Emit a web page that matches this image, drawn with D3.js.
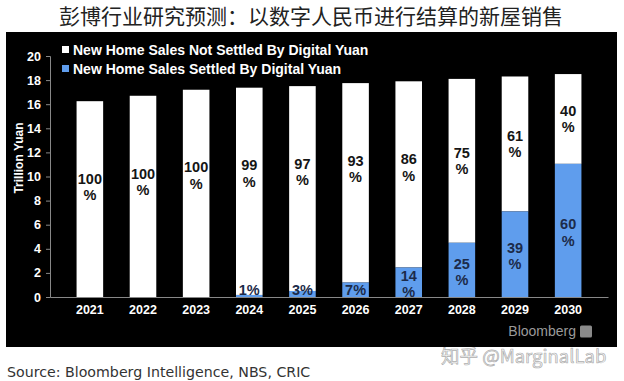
<!DOCTYPE html>
<html><head><meta charset="utf-8">
<script src="https://cdn.jsdelivr.net/npm/d3@7"></script>
<style>html,body{margin:0;padding:0;background:#fff;}svg{display:block;}</style>
</head><body>
<script>
const years = ["2021","2022","2023","2024","2025","2026","2027","2028","2029","2030"];
const settled = [0,0,0,0.17,0.5,1.2,2.45,4.5,7.1,11.05];
const notSettled = [16.25,16.7,17.2,17.2,17.0,16.55,15.45,13.6,11.2,7.45];
const notSettledLabels = [["100","%"],["100","%"],["100","%"],["99","%"],["97","%"],["93","%"],["86","%"],["75","%"],["61","%"],["40","%"]];
const settledLabels = [[],[],[],["1%"],["3%"],["7%"],["14","%"],["25","%"],["39","%"],["60","%"]];
const yTicks = [0,2,4,6,8,10,12,14,16,18,20];
const seriesNames = ["New Home Sales Not Settled By Digital Yuan","New Home Sales Settled By Digital Yuan"];
const title = "彭博行业研究预测：以数字人民币进行结算的新屋销售";
const source = "Source: Bloomberg Intelligence, NBS, CRIC";

const W=624,H=381;
const svg=d3.select("body").append("svg").attr("width",W).attr("height",H);
const F="Liberation Sans, Arial, sans-serif";
const blue="#5f9ded";

svg.append("text").attr("x",311).attr("y",15).attr("text-anchor","middle").attr("dominant-baseline","central")
  .attr("font-family","Noto Sans CJK SC, sans-serif").attr("font-size",21).attr("fill","#222").text(title);

svg.append("rect").attr("x",6).attr("y",32).attr("width",611).attr("height",315).attr("fill","#000");

const x=d3.scaleBand().domain(years).range([50,608]).padding(0.5);
const y=d3.scaleLinear().domain([0,20]).range([297,56]);

// y axis
const ya=svg.append("g").attr("transform","translate(50,0)").call(d3.axisLeft(y).tickValues(yTicks).tickSize(4).tickPadding(5));
ya.select(".domain").attr("stroke","#888");
ya.selectAll(".tick line").attr("stroke","#888");
ya.selectAll("text").attr("fill","#fff").attr("font-family",F).attr("font-weight","bold").attr("font-size",12.5);

// bars
const g=svg.append("g");
years.forEach((yr,i)=>{
  g.append("rect").attr("x",x(yr)).attr("width",x.bandwidth())
    .attr("y",y(settled[i]+notSettled[i])).attr("height",y(settled[i])-y(settled[i]+notSettled[i])).attr("fill","#fff");
  if(settled[i]>0) g.append("rect").attr("x",x(yr)).attr("width",x.bandwidth())
    .attr("y",y(settled[i])).attr("height",y(0)-y(settled[i])).attr("fill",blue);
});

// x axis
const xa=svg.append("g").attr("transform","translate(0,297)").call(d3.axisBottom(x).tickSize(0).tickPadding(8));
xa.select(".domain").attr("stroke","#888");
xa.selectAll("text").attr("fill","#fff").attr("font-family",F).attr("font-weight","bold").attr("font-size",12.5);

// labels
const lh=16.5;
years.forEach((yr,i)=>{
  const cx=x(yr)+x.bandwidth()/2;
  const top=y(settled[i]+notSettled[i]), bot=y(settled[i]);
  const c=top+Math.min((bot-top)/2,86);
  const L=notSettledLabels[i];
  L.forEach((t,j)=>{
    svg.append("text").attr("x",cx).attr("y",c+(j-(L.length-1)/2)*lh).attr("text-anchor","middle").attr("dominant-baseline","central")
      .attr("font-family",F).attr("font-weight","bold").attr("font-size",14.5).attr("fill","#151515").text(t);
  });
  const S=settledLabels[i];
  if(S.length){
    const mid=(y(settled[i])+y(0))/2;
    const cc=S.length===1?Math.min(mid,290):mid+2;
    S.forEach((t,j)=>{
      svg.append("text").attr("x",cx).attr("y",cc+(j-(S.length-1)/2)*lh).attr("text-anchor","middle").attr("dominant-baseline","central")
        .attr("font-family",F).attr("font-weight","bold").attr("font-size",14.5).attr("fill","#1c2b4a").text(t);
    });
  }
});

// legend
const lg=svg.append("g");
[["#fff",50],[blue,69]].forEach(([col,yy],k)=>{
  lg.append("rect").attr("x",62).attr("y",yy-4).attr("width",7).attr("height",7).attr("fill",col);
  lg.append("text").attr("x",73).attr("y",yy).attr("dominant-baseline","central").attr("font-family",F)
    .attr("font-weight","bold").attr("font-size",14).attr("fill","#fff").text(seriesNames[k]);
});

// y title
svg.append("text").attr("transform","translate(19,158) rotate(-90)").attr("text-anchor","middle").attr("dominant-baseline","central")
  .attr("font-family",F).attr("font-weight","bold").attr("font-size",12).attr("fill","#fff").text("Trillion Yuan");

// Bloomberg
svg.append("text").attr("x",576).attr("y",331).attr("text-anchor","end").attr("dominant-baseline","central")
  .attr("font-family","Liberation Sans, Arial, sans-serif").attr("font-size",14).attr("fill","#9a9a9a").text("Bloomberg");
svg.append("rect").attr("x",580).attr("y",325.5).attr("width",12).attr("height",12).attr("rx",1.5).attr("fill","#8a8a8a");

// source
svg.append("text").attr("x",7).attr("y",372).attr("dominant-baseline","central")
  .attr("font-family","DejaVu Sans, sans-serif").attr("font-size",14.2).attr("fill","#333").text(source);

// watermark
svg.append("text").attr("x",441).attr("y",355).attr("dominant-baseline","central")
  .attr("font-family","Noto Sans CJK SC, sans-serif").attr("font-size",18.5).attr("fill","#f4f4f4").attr("fill-opacity",0.85)
  .attr("stroke","#8a8a8a").attr("stroke-width",0.7).attr("stroke-opacity",0.7).text("知乎 @MarginalLab");
</script>
</body></html>
